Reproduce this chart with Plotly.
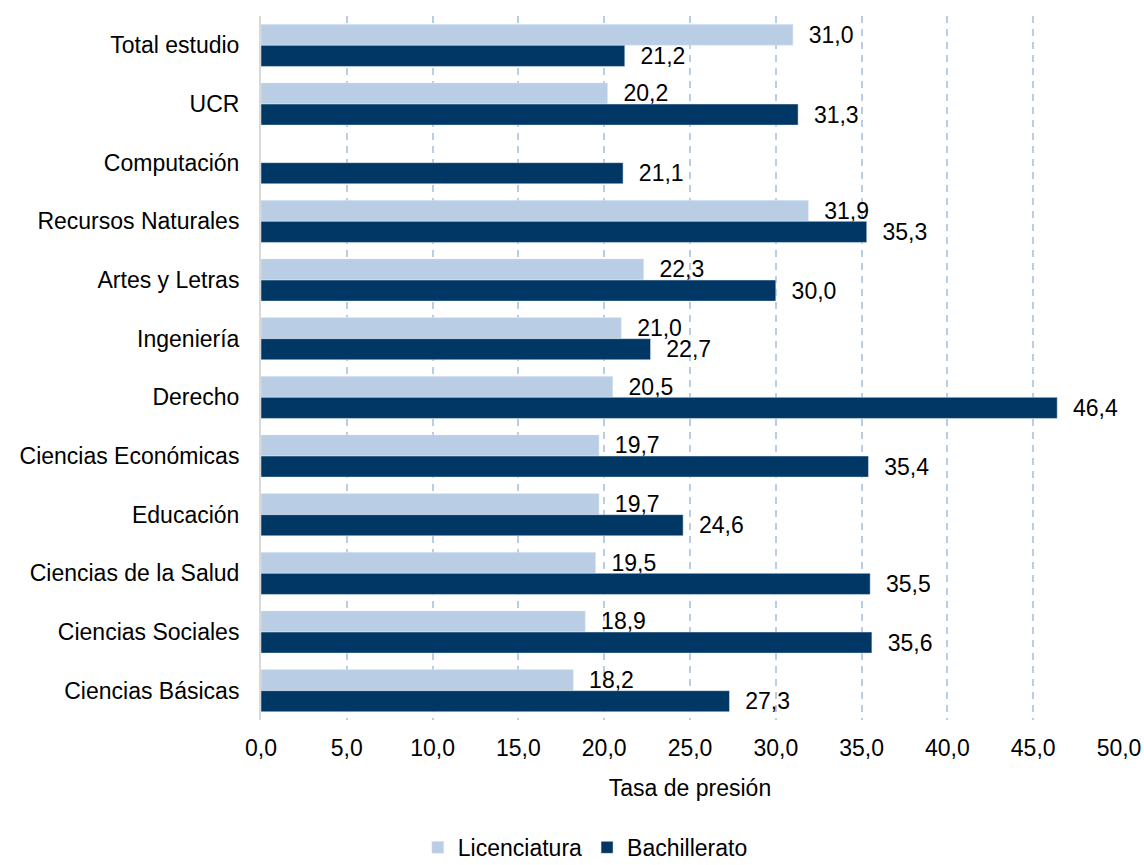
import plotly.graph_objects as go

# categorias de arriba hacia abajo
categorias = ["Total estudio", "UCR", "Computación", "Recursos Naturales",
              "Artes y Letras", "Ingeniería", "Derecho", "Ciencias Económicas",
              "Educación", "Ciencias de la Salud", "Ciencias Sociales",
              "Ciencias Básicas"]
licenciatura = [31.0, 20.2, None, 31.9, 22.3, 21.0, 20.5, 19.7, 19.7, 19.5, 18.9, 18.2]
bachillerato = [21.2, 31.3, 21.1, 35.3, 30.0, 22.7, 46.4, 35.4, 24.6, 35.5, 35.6, 27.3]
ticks_x = [0, 5, 10, 15, 20, 25, 30, 35, 40, 45, 50]

fuente = "Liberation Sans, Arial, sans-serif"
tam = 23

fig = go.Figure()
fig.add_trace(go.Bar(y=categorias, x=licenciatura, orientation="h",
                     name="Licenciatura", marker_color="#b9cde5",
                     texttemplate="\u00a0\u00a0%{x:.1f}", textposition="outside",
                     constraintext="none",
                     textfont=dict(size=tam, color="black"), cliponaxis=False))
fig.add_trace(go.Bar(y=categorias, x=bachillerato, orientation="h",
                     name="Bachillerato", marker_color="#003764",
                     texttemplate="\u00a0\u00a0%{x:.1f}", textposition="outside",
                     constraintext="none",
                     textfont=dict(size=tam, color="black"), cliponaxis=False))

fig.update_layout(
    width=1144, height=865,
    barmode="group", bargap=0.28, bargroupgap=0,
    separators=",.",
    plot_bgcolor="white", paper_bgcolor="white",
    font=dict(family=fuente, size=tam, color="black"),
    margin=dict(l=261, r=25, t=16, b=145, autoexpand=False),
    legend=dict(orientation="h", x=0.378, xanchor="center", y=-0.181, yanchor="middle",
                font=dict(size=tam), traceorder="normal"),
)
fig.update_xaxes(range=[0, 50], tickvals=ticks_x, tickformat=".1f",
                 tickfont=dict(size=tam),
                 showgrid=True, gridcolor="#b9cde5", griddash="7px,6px", gridwidth=2,
                 zeroline=False, showline=False, ticks="", ticklabelstandoff=12,
                 automargin=False,
                 title=dict(text="Tasa de presión", standoff=19, font=dict(size=tam)))
fig.update_yaxes(autorange="reversed", showline=True, linecolor="#d9d9d9", linewidth=2,
                 tickfont=dict(size=tam), automargin=False,
                 ticks="", ticklabelstandoff=15, showgrid=False)

# quitar el margen del body para que la figura ocupe toda la ventana
fig.write_html("out.html", config={"displayModeBar": False},
               post_script="document.body.style.margin='0';")
